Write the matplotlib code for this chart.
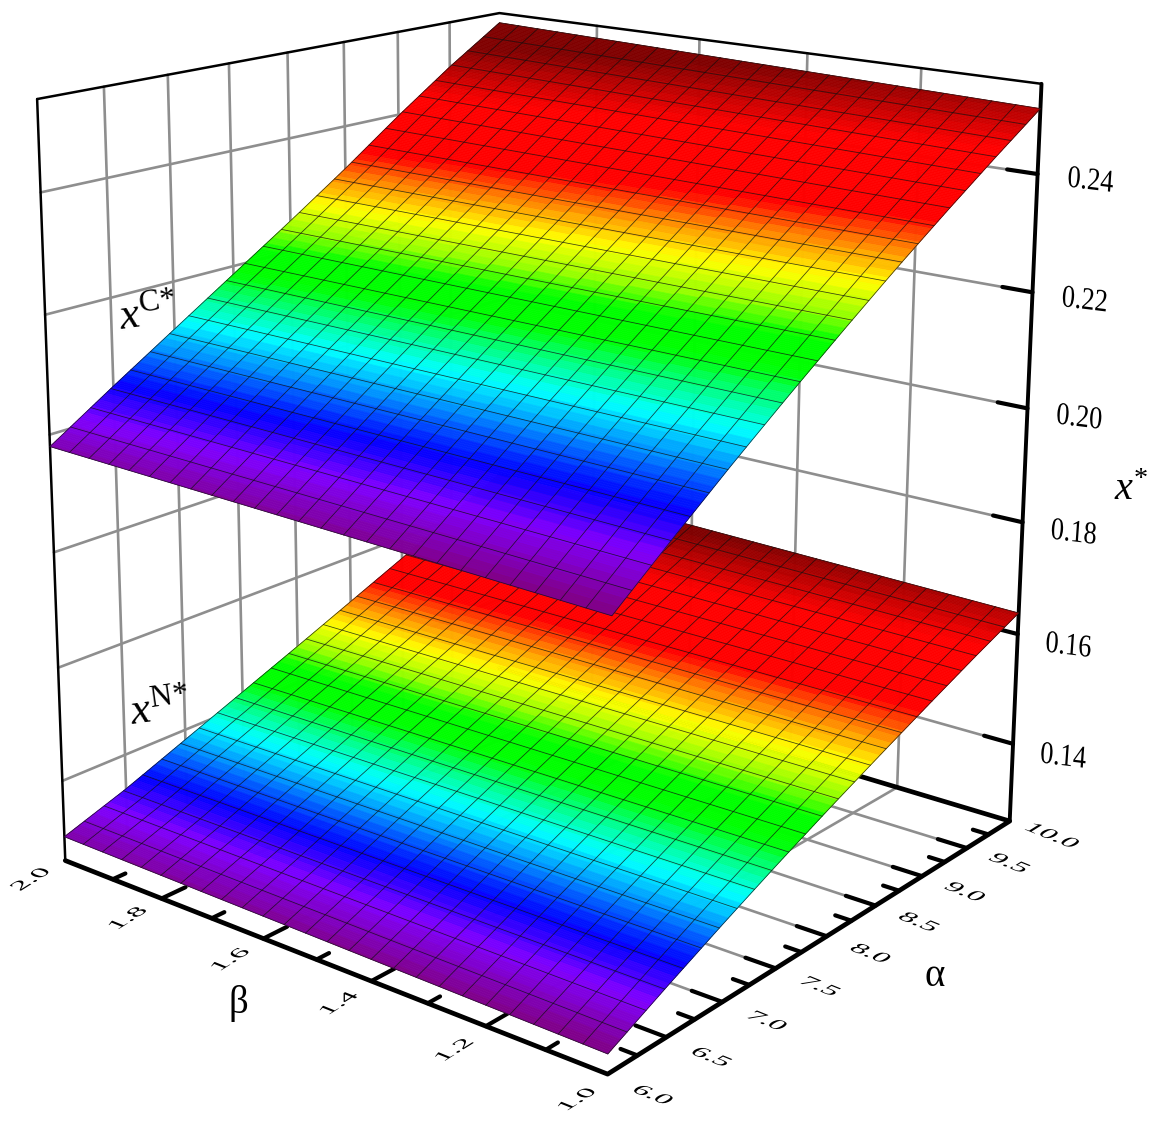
import numpy as np
import matplotlib
matplotlib.use('Agg')
import matplotlib.pyplot as plt
from matplotlib.colors import LinearSegmentedColormap
from matplotlib.patheffects import AbstractPathEffect
from matplotlib.transforms import Affine2D
from mpl_toolkits.mplot3d import proj3d

plt.rcParams['font.family'] = ['Liberation Serif', 'DejaVu Serif']
plt.rcParams['mathtext.fontset'] = 'custom'
plt.rcParams['mathtext.rm'] = 'Liberation Serif'
plt.rcParams['mathtext.it'] = 'Liberation Serif:italic'

# values
alpha_table = [6.0, 6.5, 7.0, 7.5, 8.0, 8.5, 9.0, 9.5, 10.0]
upper_beta1 = [.1958, .2035, .2110, .2182, .2252, .2320, .2385, .2448, .2509]
upper_beta2 = [.1980, .2050, .2118, .2186, .2254, .2324, .2398, .2468, .2532]
lower_beta1 = [.1289, .1339, .1387, .1433, .1477, .1519, .1560, .1600, .1638]
lower_beta2 = [.1300, .1338, .1382, .1426, .1470, .1515, .1560, .1607, .1655]

alpha_major = [6.5, 7.0, 7.5, 8.0, 8.5, 9.0, 9.5]
alpha_minor = [6.25, 6.75, 7.25, 7.75, 8.25, 8.75, 9.25, 9.75]
alpha_labels = ['6.0', '6.5', '7.0', '7.5', '8.0', '8.5', '9.0', '9.5', '10.0']
beta_major = [1.2, 1.4, 1.6, 1.8]
beta_minor = [1.1, 1.3, 1.5, 1.7, 1.9]
beta_labels = ['1.0', '1.2', '1.4', '1.6', '1.8', '2.0']
z_major = [.14, .16, .18, .20, .22, .24]
z_labels = ['0.14', '0.16', '0.18', '0.20', '0.22', '0.24']

W, H = 1161, 1124
amin, amax, bmin, bmax, zmin, zmax = 6, 10, 1, 2, .1257, .2550
GRAY = '#8e8e8e'

cmap = LinearSegmentedColormap.from_list('bands', [
    (0.00, (.50, 0, .55)), (.09, (.50, 0, 1)), (.17, (0, 0, 1)), (.24, (0, .5, 1)),
    (.31, (0, 1, 1)), (.37, (0, 1, .5)), (.42, (0, 1, 0)), (.48, (0, 1, 0)),
    (.53, (.6, 1, 0)), (.59, (1, 1, 0)), (.65, (1, .6, 0)), (.72, (1, 0, 0)),
    (.87, (1, 0, 0)), (1.0, (.5, 0, 0))])

fig = plt.figure(figsize=(W / 100, H / 100), dpi=100)
ax = fig.add_axes([0, 0, 1, 1], projection='3d')
# the reference is not square, so let the axes fill its own rectangle
ax.apply_aspect = lambda position=None: None
ax.set_xlim(amin, amax)
ax.set_ylim(bmin, bmax)
ax.set_zlim(zmin, zmax)
ax.view_init(15.6191, -141.4101, -0.2472)
ax.set_box_aspect((0.9976, 1, 0.9938))
ax._dist = 4.795
ax.computed_zorder = False
ax.set_axis_off()

# fit the projected coordinates to the picture
p0, p1 = ax.transData.transform([(0, 0), (1, 1)])
w = 2.5944 * W / (p1[0] - p0[0])
h = 3.0235 * H / (p1[1] - p0[1])
left = (W / 2 - 33.7023 - w * p0[0]) / W
bottom = (H / 2 + 84.5706 - h * p0[1]) / H
ax.set_position([left, bottom, w, h])


class PlaneText(AbstractPathEffect):
    # lays a label flat in its plane, the way the reference draws them
    def __init__(self, cx, cy, base_deg, up_deg, squash):
        bx, by = np.cos(np.radians(base_deg)), np.sin(np.radians(base_deg))
        ux, uy = squash * np.cos(np.radians(up_deg)), squash * np.sin(np.radians(up_deg))
        self.t = (Affine2D().translate(-cx, -cy)
                  + Affine2D.from_values(bx, by, ux, uy, 0, 0)
                  + Affine2D().translate(cx, cy))

    def draw_path(self, renderer, gc, tpath, affine, rgbFace=None):
        renderer.draw_path(gc, tpath, affine + self.t, rgbFace)


def line(a, b, z, color='black', lw=1.0, zorder=1, alpha=None):
    ax.plot(a, b, z, color=color, lw=lw, zorder=zorder, alpha=alpha,
            clip_on=False, solid_capstyle='round')


def label(a, b, z, s, plane=None, **kw):
    u, v, _ = proj3d.proj_transform(a, b, z, ax.get_proj())
    t = ax.text2D(u, v, s, transform=ax.transData, ha='center', va='center', clip_on=False, **kw)
    if plane is not None:
        cx, cy = ax.transData.transform((u, v))
        t.set_path_effects([PlaneText(cx, cy, *plane)])


# gray grid on the two walls and the floor
for a in alpha_major:
    line([a, a], [bmax, bmax], [zmin, zmax], GRAY, 1.9)
    line([a, a], [bmin, bmax], [zmin, zmin], GRAY, 1.9)
for b in beta_major:
    line([amax, amax], [b, b], [zmin, zmax], GRAY, 1.9)
    line([amin, amax], [b, b], [zmin, zmin], GRAY, 1.9)
for z in z_major:
    line([amin, amax], [bmax, bmax], [z, z], GRAY, 1.9)
    line([amax, amax], [bmin, bmax], [z, z], GRAY, 1.9)

# box
line([amin, amin], [bmax, bmax], [zmin, zmax], lw=1.8, zorder=2)
line([amax, amax], [bmin, bmin], [zmin, zmax], lw=2.8, zorder=2)
line([amin, amax, amax], [bmax, bmax, bmin], [zmax, zmax, zmax], lw=1.8, zorder=2)
line([amin, amin, amax, amax], [bmax, bmin, bmin, bmax], [zmin, zmin, zmin, zmin], lw=3.4, zorder=2)

# ticks
for a in alpha_major:
    line([a, a], [bmin, bmin + .05], [zmin, zmin], lw=3.0, zorder=2)
for a in alpha_minor:
    line([a, a], [bmin, bmin + .027], [zmin, zmin], lw=3.0, zorder=2)
for b in beta_major:
    line([amin, amin + .19], [b, b], [zmin, zmin], lw=3.0, zorder=2)
for b in beta_minor:
    line([amin, amin + .1], [b, b], [zmin, zmin], lw=3.0, zorder=2)
for z in z_major:
    line([amax, amax], [bmin, bmin + .05], [z, z], lw=3.0, zorder=2)


def surface(beta1, beta2, zorder):
    a_fine = np.linspace(amin, amax, 301)
    b_fine = np.linspace(bmin, bmax, 26)
    aa, bb = np.meshgrid(a_fine, b_fine)
    z1 = np.interp(aa, alpha_table, beta1)
    z2 = np.interp(aa, alpha_table, beta2)
    zz = z1 + (bb - bmin) * (z2 - z1)
    lo, hi = beta1[0], beta2[-1]
    t = (zz - lo) / (hi - lo)
    # the colour bands lean a little more than the surface does
    t = t + .08 * (bb - bmin) * t
    levels = np.floor(np.clip(t, 0, 1) * 72) / 72
    surf = ax.plot_surface(aa, bb, zz, facecolors=cmap(levels), shade=False,
                           rcount=aa.shape[0], ccount=aa.shape[1], linewidth=.5,
                           antialiased=True, zorder=zorder)
    surf.set_clip_on(False)
    # dark mesh
    a_mesh = np.linspace(amin, amax, 26)
    for a in a_mesh:
        zl = np.interp(a, alpha_table, beta1)
        zr = np.interp(a, alpha_table, beta2)
        line([a, a], [bmin, bmax], [zl, zr], '#101010', .55, zorder + 1, .8)
    for b in b_fine:
        za = np.interp(a_mesh, alpha_table, beta1)
        zb = np.interp(a_mesh, alpha_table, beta2)
        line(a_mesh, np.full(26, b), za + (b - bmin) * (zb - za), '#101010', .55, zorder + 1, .8)


surface(lower_beta1, lower_beta2, 3)
surface(upper_beta1, upper_beta2, 5)

# tick labels
for a, s in zip([6, 6.5, 7, 7.5, 8, 8.5, 9, 9.5, 10], alpha_labels):
    label(a - .03, bmin - .075, zmin, s, plane=(-22, 32, .65), fontsize=22)
for b, s in zip([1, 1.2, 1.4, 1.6, 1.8, 2], beta_labels):
    label(amin - .3, b - .01, zmin, s, plane=(32, 158, .65), fontsize=22)
for z, s in zip(z_major, z_labels):
    label(amax, bmin - .085, z, s, plane=(-7, 86, 1.2), fontsize=19)

# axis names
fig.text(935 / W, 1 - 977 / H, 'α', fontsize=28, ha='center', va='center')
fig.text(238 / W, 1 - 1003 / H, 'β', fontsize=28, ha='center', va='center')
fig.text(1131 / W, 1 - 491 / H, r'$x^{{*}}$', fontsize=29, ha='center', va='center')
fig.text(148 / W, 1 - 314 / H, r'$x^{\mathrm{C}{*}}$', fontsize=32, rotation=8, ha='center', va='center')
fig.text(160 / W, 1 - 709 / H, r'$x^{\mathrm{N}{*}}$', fontsize=32, rotation=8, ha='center', va='center')

fig.savefig('out.png', dpi=100)
